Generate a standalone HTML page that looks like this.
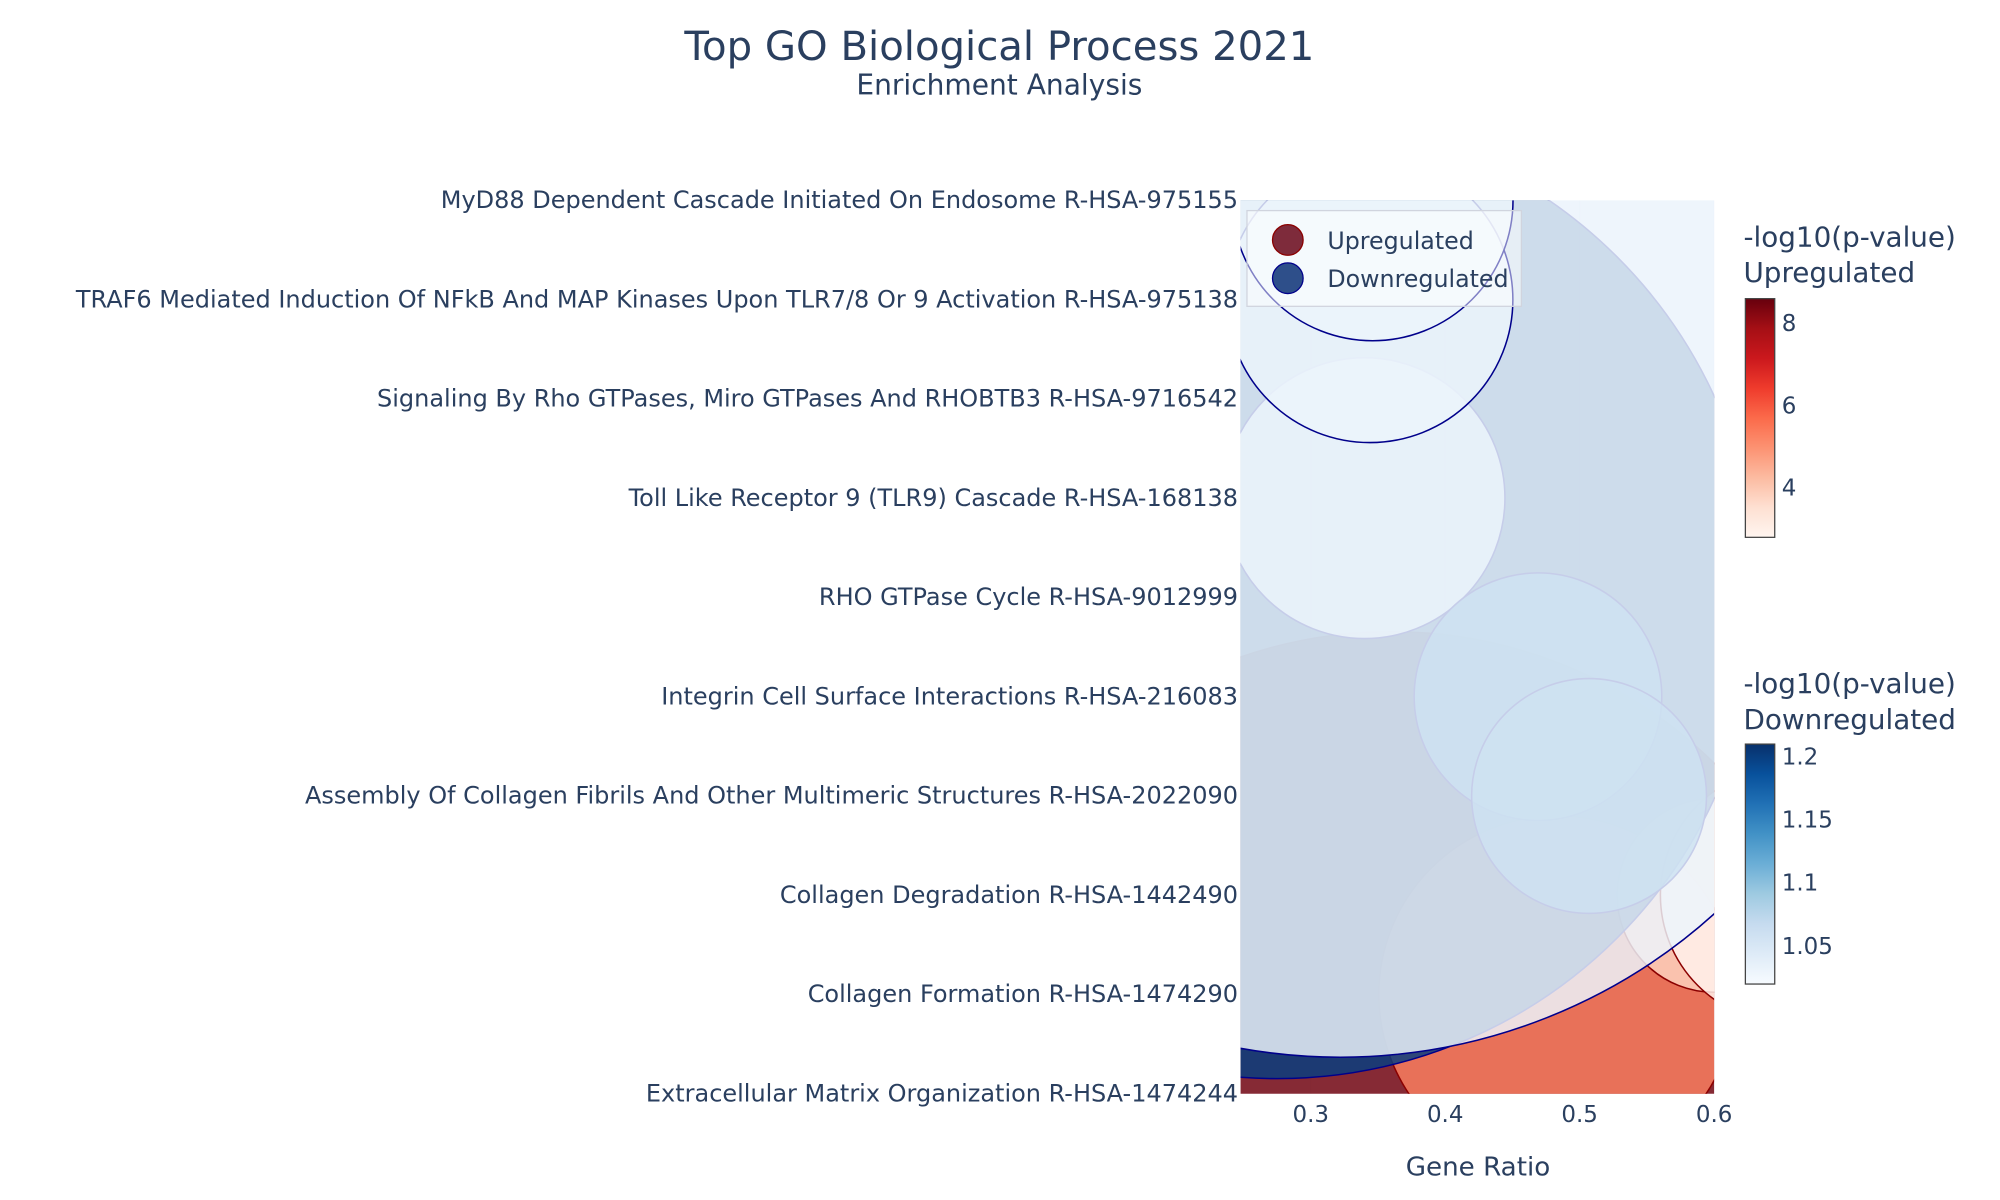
<!DOCTYPE html>
<html><head><meta charset="utf-8"><title>Top GO Biological Process 2021</title>
<style>html,body{margin:0;padding:0;background:#fff;overflow:hidden;width:2000px;height:1200px;}#wrap{position:relative;width:2000px;height:1200px;overflow:hidden;}svg{display:block;font-family:"DejaVu Sans","Liberation Sans",sans-serif;}</style>
</head><body>
<div id="wrap">
<svg id="chart" width="2000" height="1200" viewBox="0 0 1567 940.2" xmlns="http://www.w3.org/2000/svg">
<defs>
<linearGradient id="redsGrad" x1="0" y1="1" x2="0" y2="0">
<stop offset="0" stop-color="#fff5f0"/><stop offset="0.125" stop-color="#fee0d2"/><stop offset="0.25" stop-color="#fcbba1"/><stop offset="0.375" stop-color="#fc9272"/><stop offset="0.5" stop-color="#fb6a4a"/><stop offset="0.625" stop-color="#ef3b2c"/><stop offset="0.75" stop-color="#cb181d"/><stop offset="0.875" stop-color="#a50f15"/><stop offset="1" stop-color="#67000d"/>
</linearGradient>
<linearGradient id="bluesGrad" x1="0" y1="1" x2="0" y2="0">
<stop offset="0" stop-color="#f7fbff"/><stop offset="0.125" stop-color="#deebf7"/><stop offset="0.25" stop-color="#c6dbef"/><stop offset="0.375" stop-color="#9ecae1"/><stop offset="0.5" stop-color="#6baed6"/><stop offset="0.625" stop-color="#4292c6"/><stop offset="0.75" stop-color="#2171b5"/><stop offset="0.875" stop-color="#08519c"/><stop offset="1" stop-color="#08306b"/>
</linearGradient>
</defs>
<text x="783" y="47" text-anchor="middle" font-size="31.5" fill="#2a3f5f">Top GO Biological Process 2021</text>
<text x="783" y="74" text-anchor="middle" font-size="22" fill="#2a3f5f">Enrichment Analysis</text>
<svg x="972" y="157" width="371" height="700" viewBox="972 157 371 700" overflow="hidden">
<rect x="972" y="157" width="371" height="700" fill="#f6f8fd"/>
<g id="grid"></g>
<g id="marks"></g>
</svg>
<g id="yaxis"></g>
<g id="xaxis"></g>
<text x="1158" y="921" text-anchor="middle" font-size="20.5" fill="#2a3f5f">Gene Ratio</text>
<g>
<rect x="977" y="165" width="215" height="75" fill="#ffffff" fill-opacity="0.5" stroke="#d0d4de" stroke-width="1"/>
<g>
<circle cx="1009" cy="188" r="12" fill="#7e2b3b" stroke="#8b0000" stroke-width="1"/>
<text x="1040" y="195" font-size="18.6" fill="#2a3f5f">Upregulated</text></g>
<g>
<circle cx="1009" cy="218" r="12" fill="#2e4f8a" stroke="#00008b" stroke-width="1"/>
<text x="1040" y="225" font-size="18.6" fill="#2a3f5f">Downregulated</text></g>
</g>
<g>
<text x="1366" y="193" font-size="21.8" fill="#2a3f5f">-log10(p-value)</text>
<text x="1366" y="221" font-size="21.8" fill="#2a3f5f">Upregulated</text>
<rect x="1367.5" y="234" width="23" height="187" fill="url(#redsGrad)" stroke="#444" stroke-width="1"/>
<g id="upticks"></g>
</g>
<g>
<text x="1366" y="543" font-size="21.8" fill="#2a3f5f">-log10(p-value)</text>
<text x="1366" y="571" font-size="21.8" fill="#2a3f5f">Downregulated</text>
<rect x="1367.5" y="583" width="23" height="188" fill="url(#bluesGrad)" stroke="#444" stroke-width="1"/>
<g id="downticks"></g>
</g>
</svg>
</div>
<script>
const NS = "http://www.w3.org/2000/svg";
const categories = ["Extracellular Matrix Organization R-HSA-1474244","Collagen Formation R-HSA-1474290","Collagen Degradation R-HSA-1442490","Assembly Of Collagen Fibrils And Other Multimeric Structures R-HSA-2022090","Integrin Cell Surface Interactions R-HSA-216083","RHO GTPase Cycle R-HSA-9012999","Toll Like Receptor 9 (TLR9) Cascade R-HSA-168138","Signaling By Rho GTPases, Miro GTPases And RHOBTB3 R-HSA-9716542","TRAF6 Mediated Induction Of NFkB And MAP Kinases Upon TLR7/8 Or 9 Activation R-HSA-975138","MyD88 Dependent Cascade Initiated On Endosome R-HSA-975155"];
const xTicks = [0.3, 0.4, 0.5, 0.6];
const xTickLabels = ["0.3","0.4","0.5","0.6"];
// Upregulated series
const upTerms = [0, 1, 2, 2];
const upRatio = [0.36, 0.4835, 0.6, 0.655];
const upSize = [181, 70, 38, 50];
const upLogP = [8.5, 5.3, 3.8, 2.9];
// Downregulated series
const downTerms = [5, 6, 4, 3, 6, 8, 9];
const downRatio = [0.275, 0.34, 0.469, 0.507, 0.322, 0.344, 0.346];
const downSize = [188.5, 55, 48.5, 46, 219, 56, 55];
const downLogP = [1.2, 1.03, 1.15, 1.15, 1.03, 1.03, 1.03];
const upCbTicks = [8, 6, 4];
const downCbTicks = [1.2, 1.15, 1.1, 1.05];
const downCbLabels = ["1.2","1.15","1.1","1.05"];

const X0 = 972, X1 = 1343, XMIN = 0.2478, XMAX = 0.6;
const xScale = v => X0 + (v - XMIN) / (XMAX - XMIN) * (X1 - X0);
const Y0 = 857, YSTEP = 77.78;
const yScale = i => Y0 - i * YSTEP;
const rScale = s => s * 2;
const upMin = 2.8, upMax = 8.6, downMin = 1.02, downMax = 1.21;
const upCb = v => 421 - (v - upMin) / (upMax - upMin) * 187;
const downCb = v => 771 - (v - downMin) / (downMax - downMin) * 188;

const reds = ["#fff5f0","#fee0d2","#fcbba1","#fc9272","#fb6a4a","#ef3b2c","#cb181d","#a50f15","#67000d"];
const blues = ["#f7fbff","#deebf7","#c6dbef","#9ecae1","#6baed6","#4292c6","#2171b5","#08519c","#08306b"];
function hex(h){return [parseInt(h.slice(1,3),16),parseInt(h.slice(3,5),16),parseInt(h.slice(5,7),16)];}
function scaleColor(scale, t){
  t = Math.max(0, Math.min(1, t));
  const p = t * (scale.length - 1), i = Math.min(Math.floor(p), scale.length - 2), f = p - i;
  const a = hex(scale[i]), b = hex(scale[i+1]);
  return "rgb(" + a.map((c,k)=>Math.round(c + (b[k]-c)*f)).join(",") + ")";
}

const grid = document.getElementById("grid");
xTicks.forEach((t, i) => {
  const l = document.createElementNS(NS, "line");
  
  
  l.setAttribute("x1", xScale(t)); l.setAttribute("x2", xScale(t));
  l.setAttribute("y1", 157); l.setAttribute("y2", 857);
  l.setAttribute("stroke", "#ebf0f8"); l.setAttribute("stroke-width", 1);
  grid.appendChild(l);
});

const marks = document.getElementById("marks");
function bubble(ratio, term, size, color, stroke, name){
  const c = document.createElementNS(NS, "circle");
  
  
  c.setAttribute("cx", xScale(ratio)); c.setAttribute("cy", yScale(term));
  c.setAttribute("r", rScale(size));
  c.setAttribute("fill", color); c.setAttribute("fill-opacity", 0.84);
  c.setAttribute("stroke", stroke); c.setAttribute("stroke-width", 1.2);
  marks.appendChild(c);
}
upRatio.forEach((r, i) => bubble(r, upTerms[i], upSize[i], scaleColor(reds, (upLogP[i]-upMin)/(upMax-upMin)), "#8b0000", "up-bubble"));
downRatio.forEach((r, i) => bubble(r, downTerms[i], downSize[i], scaleColor(blues, (downLogP[i]-downMin)/(downMax-downMin)), "#00008b", "down-bubble"));

const yaxis = document.getElementById("yaxis");
categories.forEach((c, i) => {
  const t = document.createElementNS(NS, "text");
  
  
  t.setAttribute("x", 970); t.setAttribute("y", yScale(i) + 6);
  t.setAttribute("text-anchor", "end"); t.setAttribute("font-size", "18.8");
  t.setAttribute("fill", "#2a3f5f");
  t.textContent = c;
  yaxis.appendChild(t);
});
const xaxis = document.getElementById("xaxis");
xTicks.forEach((v, i) => {
  const t = document.createElementNS(NS, "text");
  
  
  t.setAttribute("x", xScale(v)); t.setAttribute("y", 879);
  t.setAttribute("text-anchor", "middle"); t.setAttribute("font-size", "18");
  t.setAttribute("fill", "#2a3f5f");
  t.textContent = xTickLabels[i];
  xaxis.appendChild(t);
});
const upticks = document.getElementById("upticks");
upCbTicks.forEach(v => {
  const t = document.createElementNS(NS, "text");
  
  
  t.setAttribute("x", 1396); t.setAttribute("y", upCb(v) + 6);
  t.setAttribute("font-size", "18"); t.setAttribute("fill", "#2a3f5f");
  t.textContent = String(v);
  upticks.appendChild(t);
});
const downticks = document.getElementById("downticks");
downCbTicks.forEach((v, i) => {
  const t = document.createElementNS(NS, "text");
  
  
  t.setAttribute("x", 1396); t.setAttribute("y", downCb(v) + 6);
  t.setAttribute("font-size", "18"); t.setAttribute("fill", "#2a3f5f");
  t.textContent = downCbLabels[i];
  downticks.appendChild(t);
});
</script>
</body></html>
